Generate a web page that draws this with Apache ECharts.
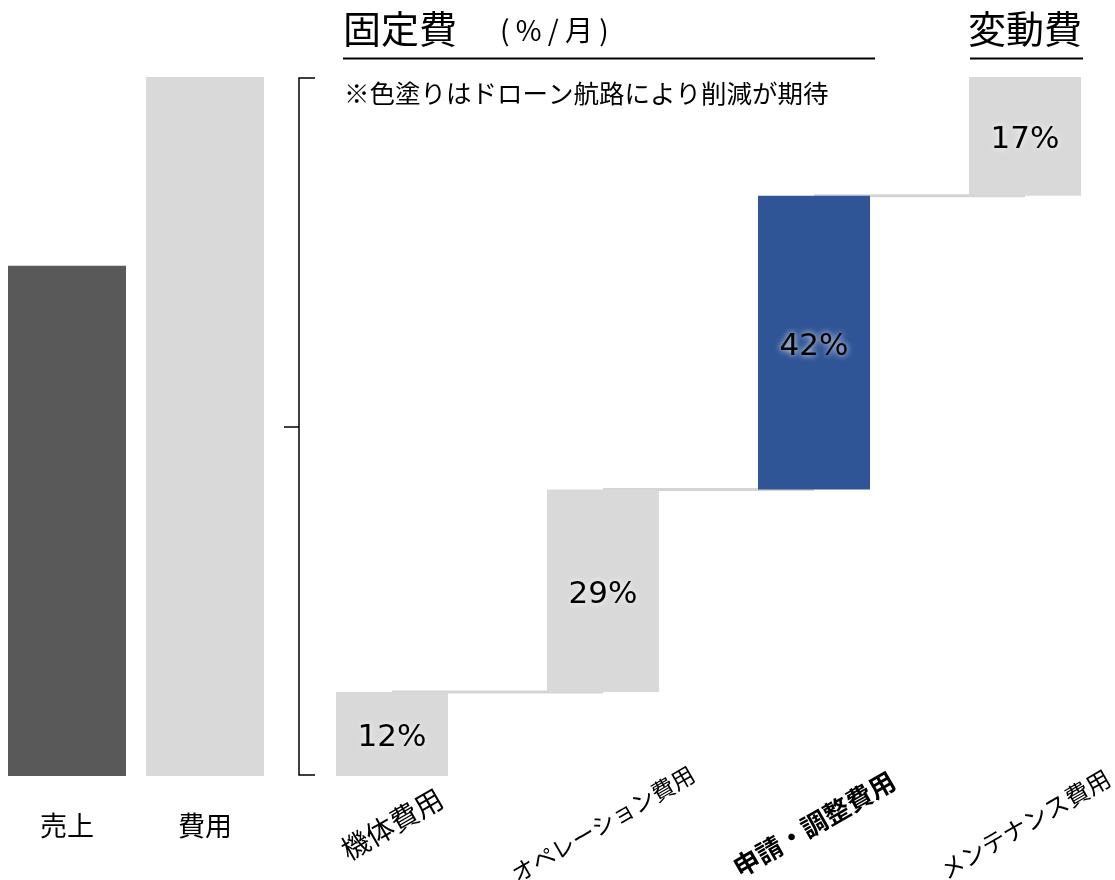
<!DOCTYPE html>
<html>
<head>
<meta charset="utf-8">
<script src="https://cdn.jsdelivr.net/npm/echarts@6/dist/echarts.min.js"></script>
<style>
html,body{margin:0;padding:0;background:#fff;}
#chart{width:1115px;height:880px;}
</style>
</head>
<body>
<div id="chart"></div>
<script>
// ---- data ----
const leftCategories = ['売上', '費用'];
const leftValues = [73, 100];
const costCategories = ['機体費用', 'オペレーション費用', '申請・調整費用', 'メンテナンス費用'];
const costValues = [12, 29, 42, 17];
const highlightCategory = '申請・調整費用';
const yMin = 0;
const yMax = 100;

// ---- derived ----
const bases = [];
let acc = 0;
costValues.forEach(v => { bases.push(acc); acc += v; });
const connectorData = [];
for (let i = 0; i < costValues.length - 1; i++) {
  connectorData.push([i, bases[i] + costValues[i]]);
}

const CJK = '"Noto Sans CJK JP", "Noto Sans", sans-serif';
const LIGHT = '#d9d9d9';
const DARK = '#595959';
const BLUE = '#2f5597';
const labelSizes = {'機体費用': 28, 'オペレーション費用': 23, '申請・調整費用': 26, 'メンテナンス費用': 24};

const chart = echarts.init(document.getElementById('chart'), null, {renderer: 'canvas'});

const valueLabel = {
  show: true,
  position: 'inside',
  offset: [0, 4],
  formatter: '{c}%',
  fontFamily: '"DejaVu Sans", Verdana, sans-serif',
  fontSize: 31,
  color: '#000',
  textShadowColor: '#fff',
  textShadowBlur: 6
};

const option = {
  animation: false,
  backgroundColor: '#fff',
  grid: [
    {left: -2, width: 276, top: 77, height: 699, outerBoundsMode: 'none', containLabel: false},
    {left: 286.5, width: 844, top: 77, height: 699, outerBoundsMode: 'none', containLabel: false}
  ],
  xAxis: [
    {
      type: 'category', gridIndex: 0, data: leftCategories,
      axisLine: {show: false}, axisTick: {show: false},
      axisLabel: {fontFamily: CJK, fontSize: 27, color: '#000', margin: 50, verticalAlign: 'middle'}
    },
    {
      type: 'category', gridIndex: 1,
      data: costCategories.map(c => ({
        value: c,
        textStyle: {
          fontWeight: c === highlightCategory ? 'bold' : 'normal',
          fontSize: labelSizes[c],
          align: 'center',
          verticalAlign: 'middle'
        }
      })),
      axisLine: {show: false}, axisTick: {show: false},
      axisLabel: {fontFamily: CJK, fontSize: 24, color: '#000', rotate: 30, align: 'center', verticalAlign: 'middle', margin: 48, interval: 0}
    }
  ],
  yAxis: [
    {type: 'value', gridIndex: 0, min: yMin, max: yMax, show: false},
    {type: 'value', gridIndex: 1, min: yMin, max: yMax, show: false}
  ],
  series: [
    {
      type: 'bar', xAxisIndex: 0, yAxisIndex: 0, barWidth: 118,
      data: leftValues.map((v, i) => ({value: v, itemStyle: {color: i === 0 ? DARK : LIGHT}})),
      label: {show: false}
    },
    {
      type: 'custom', xAxisIndex: 1, yAxisIndex: 1, z: 1,
      data: connectorData,
      renderItem: function (params, api) {
        const i = api.value(0);
        const y = api.value(1);
        const p1 = api.coord([i, y]);
        const p2 = api.coord([i + 1, y]);
        return {
          type: 'line',
          shape: {x1: p1[0], y1: p1[1], x2: p2[0], y2: p2[1]},
          style: {stroke: '#d4d4d4', lineWidth: 3}
        };
      }
    },
    {
      type: 'bar', xAxisIndex: 1, yAxisIndex: 1, stack: 'wf', barWidth: 112, z: 2,
      itemStyle: {color: 'transparent'},
      data: bases,
      silent: true
    },
    {
      type: 'bar', xAxisIndex: 1, yAxisIndex: 1, stack: 'wf', barWidth: 112, z: 2,
      data: costValues.map((v, i) => ({value: v, itemStyle: {color: costCategories[i] === highlightCategory ? BLUE : LIGHT}})),
      label: valueLabel
    }
  ],
  graphic: [
    {type: 'text', left: 343, top: 10, style: {text: '固定費', font: '38px ' + CJK, fill: '#000'}},
    {type: 'text', left: 500, top: 16, style: {text: '( % / 月 )', font: '28px ' + CJK, fill: '#000'}},
    {type: 'line', shape: {x1: 343, y1: 58.5, x2: 875, y2: 58.5}, style: {stroke: '#000', lineWidth: 2}},
    {type: 'text', left: 968, top: 10, style: {text: '変動費', font: '38px ' + CJK, fill: '#000'}},
    {type: 'line', shape: {x1: 970, y1: 58.5, x2: 1083, y2: 58.5}, style: {stroke: '#000', lineWidth: 2}},
    {type: 'text', left: 344, top: 81, style: {text: '※色塗りはドローン航路により削減が期待', font: '25.5px ' + CJK, fill: '#000'}},
    {type: 'polyline', shape: {points: [[315, 78], [299, 78], [299, 775], [315, 775]]}, style: {stroke: '#000', lineWidth: 1.5, fill: null}},
    {type: 'line', shape: {x1: 284, y1: 427, x2: 299, y2: 427}, style: {stroke: '#000', lineWidth: 1.5}}
  ]
};
chart.setOption(option);
</script>
</body>
</html>
